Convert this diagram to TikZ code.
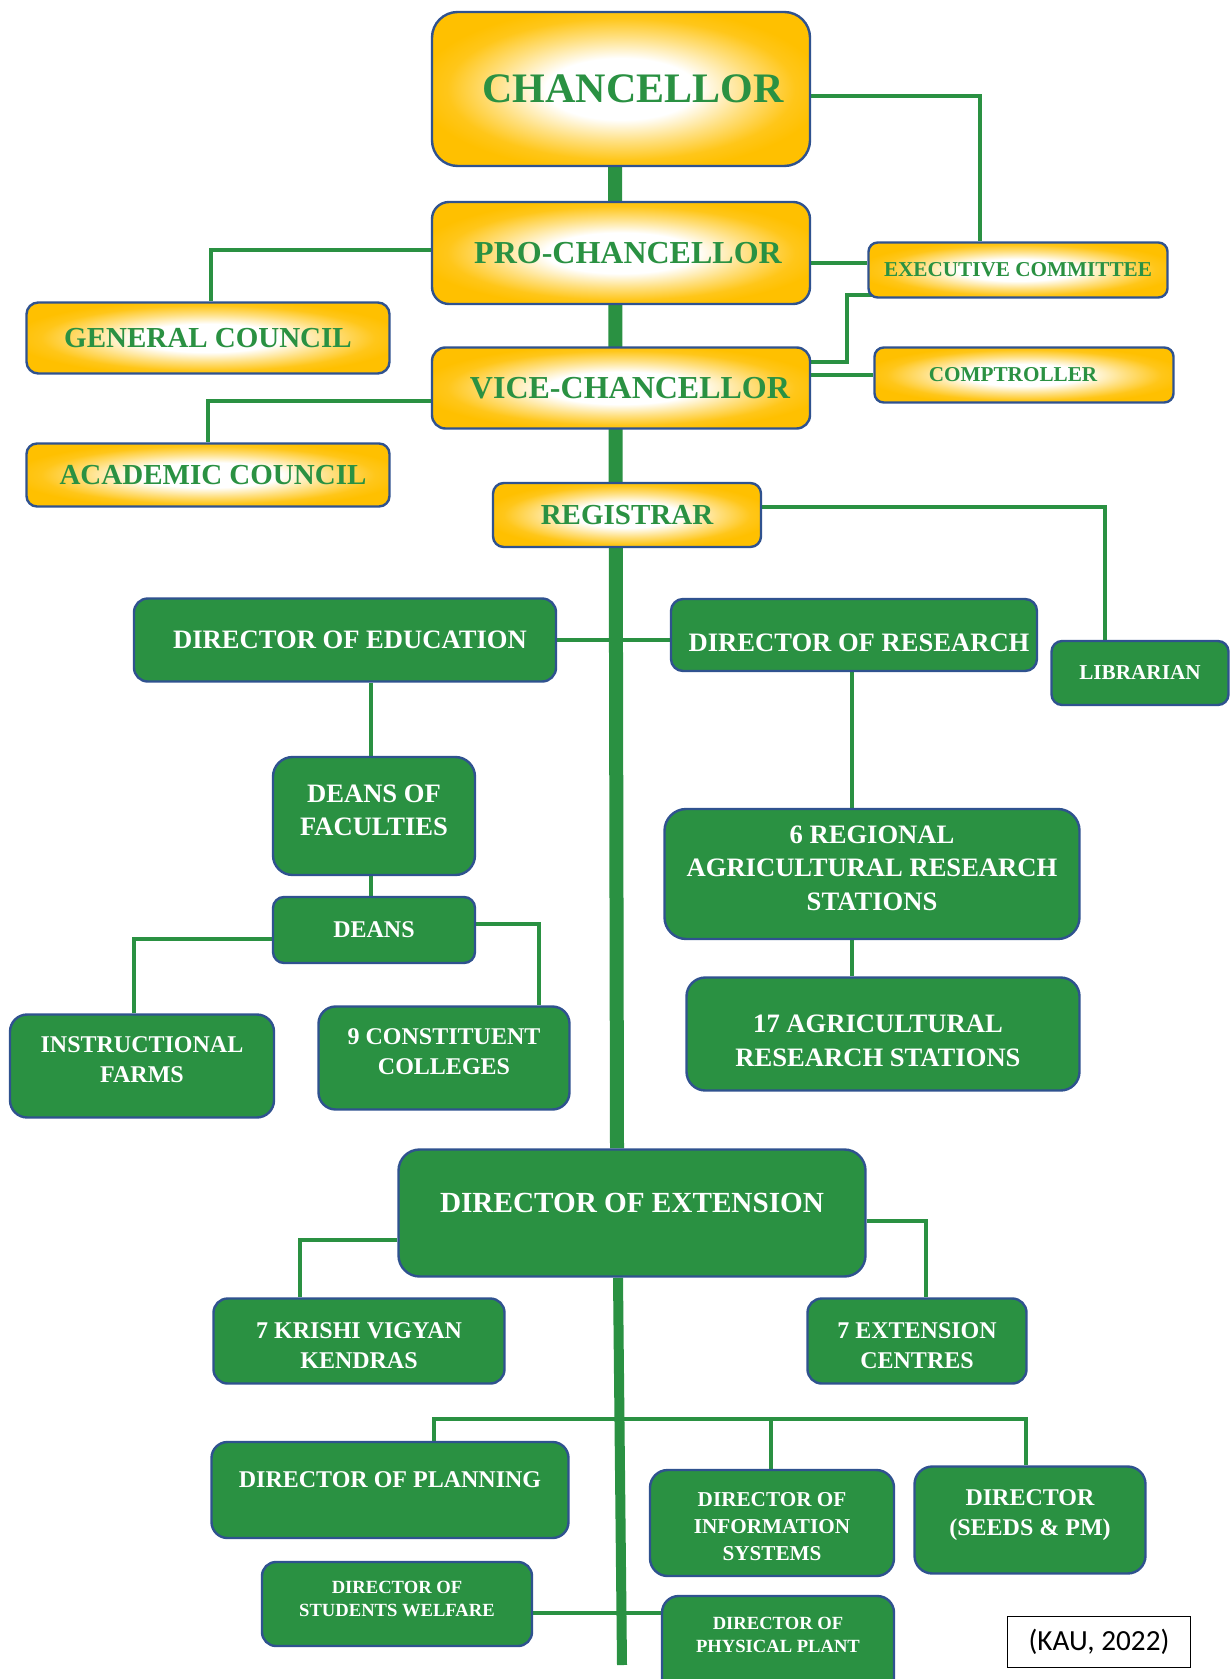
\documentclass[tikz,border=0pt]{standalone}
\usepackage{fontspec}
\setmainfont{Liberation Serif}
\newfontfamily\calibrifont{Carlito}
\usetikzlibrary{backgrounds}

\definecolor{kaugreen}{HTML}{2A9142}
\definecolor{kaublue}{HTML}{2F528F}
\definecolor{kaugold}{HTML}{FFC000}

% white centre, gold rim for the top offices
\pgfdeclareradialshading{kaurad}{\pgfpoint{0bp}{0bp}}{color(0bp)=(white); color(10bp)=(white); color(17bp)=(kaugold!50!white); color(23bp)=(kaugold!90!white); color(27bp)=(kaugold); color(50bp)=(kaugold)}

\tikzset{
  ybox/.style={shade, shading=kaurad, draw=kaublue, line width=1.2pt, text=kaugreen, align=center, inner sep=0pt},
  gbox/.style={fill=kaugreen, draw=kaublue, line width=1.2pt, text=white, align=center, inner sep=0pt},
  sz/.style 2 args={minimum width=#1*0.5pt, minimum height=#2*0.5pt, rounded corners={0.0833*min(#1,#2)*1pt}},
  fs/.style 2 args={font=\bfseries\fontsize{#1}{#2}\selectfont},
  textup/.style={text depth=#1},
  textdown/.style={text height=#1},
  link/.style={kaugreen, line width=2.3pt},
  trunk/.style={kaugreen, line width=7pt},
}

\begin{document}
\begin{tikzpicture}[x=0.5pt, y=-0.5pt]

\useasboundingbox (0,0) rectangle (1230,1679);

% Top offices (yellow boxes)
\node[ybox, sz={378}{154}, fs={21}{26}] (chan) at (621,89) {\hspace*{12pt}CHANCELLOR};
\node[ybox, sz={378}{102}, fs={16}{20}] (pro) at (621,253) {\hspace*{7pt}PRO-CHANCELLOR};
\node[ybox, sz={378}{81}, fs={16}{20}] (vice) at (621,388) {\hspace*{9pt}VICE-CHANCELLOR};
\node[ybox, sz={363}{71}, fs={14.5}{18}] (gen) at (208,338) {GENERAL COUNCIL};
\node[ybox, sz={363}{63}, fs={14.5}{18}] (acad) at (208,475) {\hspace*{5pt}ACADEMIC COUNCIL};
\node[ybox, sz={299}{55}, fs={10.6}{13}] (exec) at (1018,270) {EXECUTIVE COMMITTEE};
\node[ybox, sz={299}{55}, fs={10.6}{13}] (comp) at (1024,375) {COMPTROLLER\hspace*{11pt}};
\node[ybox, sz={268}{64}, fs={14.5}{18}] (reg) at (627,515) {REGISTRAR};

% Directorates (green boxes)
\node[gbox, sz={422}{83}, fs={13.3}{16.6}] (edu) at (345,640) {\hspace*{5pt}DIRECTOR OF EDUCATION};
\node[gbox, sz={366}{72}, fs={13.3}{16.6}, textdown=16.3pt] (res) at (854,635) {\hspace*{5pt}DIRECTOR OF RESEARCH};
\node[gbox, sz={177}{64}, fs={10.6}{13}] (lib) at (1140,673) {LIBRARIAN};
\node[gbox, sz={202}{118}, fs={13.3}{16.3}, textup=6pt] (dof) at (374,816) {DEANS OF\\FACULTIES};
\node[gbox, sz={202}{66}, fs={12}{15}] (deans) at (374,930) {DEANS};
\node[gbox, sz={264}{103}, fs={12}{15}, textup=6pt] (farms) at (142,1066) {INSTRUCTIONAL\\FARMS};
\node[gbox, sz={251}{103}, fs={12}{15}, textup=6pt] (coll) at (444,1058) {9 CONSTITUENT\\COLLEGES};
\node[gbox, sz={415}{130}, fs={13.3}{16.6}, textup=6pt] (rars) at (872,874) {6 REGIONAL\\AGRICULTURAL RESEARCH\\STATIONS};
\node[gbox, sz={393}{113}, fs={13.3}{17}, textdown=32.4pt] (ars) at (883,1034) {17 AGRICULTURAL\hspace*{5pt}\\RESEARCH STATIONS\hspace*{5pt}};
\node[gbox, sz={467}{127}, fs={14.6}{18}, textup=10pt] (ext) at (632,1213) {DIRECTOR OF EXTENSION};
\node[gbox, sz={291}{85}, fs={12}{15}, textdown=27.4pt] (kvk) at (359,1341) {7 KRISHI VIGYAN\\KENDRAS};
\node[gbox, sz={219}{85}, fs={12}{15}, textdown=27.4pt] (ecen) at (917,1341) {7 EXTENSION\\CENTRES};
\node[gbox, sz={357}{96}, fs={12}{15}, textup=10pt] (plan) at (390,1490) {DIRECTOR OF PLANNING};
\node[gbox, sz={244}{106}, fs={10.6}{13.4}, textdown=37.3pt] (info) at (772,1523) {DIRECTOR OF\\INFORMATION\\SYSTEMS};
\node[gbox, sz={231}{107}, fs={12}{15}, textup=7pt] (seeds) at (1030,1520) {DIRECTOR\\(SEEDS \& PM)};
\node[gbox, sz={270}{84}, fs={9.3}{11.7}, textup=5pt] (sw) at (397,1604) {DIRECTOR OF\\STUDENTS WELFARE};
\node[gbox, sz={232}{100}, fs={9.3}{11.7}, textup=11pt] (pp) at (778,1646) {DIRECTOR OF\\PHYSICAL PLANT};

% Source note
\node[draw=black, line width=0.7pt, minimum width=91.5pt, minimum height=25.5pt, inner sep=0pt, font=\calibrifont\fontsize{14.6}{17.5}\selectfont] (kau) at (1099,1642) {(KAU, 2022)};

% Connectors go behind the boxes
\begin{scope}[on background layer]
\draw[link] (chan.east |- 0,96) -| (980,0 |- exec.north);
\draw[link] (pro.east |- 0,263) -- (exec.west |- 0,263);
\draw[link] (vice.east |- 0,362) -| (847,295) -- ([xshift=3pt]exec.west |- 0,295);
\draw[link] (vice.east |- comp.west) -- (comp.west);
\draw[link] (pro.west |- 0,250) -| (211,0 |- gen.north);
\draw[link] (vice.west |- 0,401) -| (208,0 |- acad.north);
\draw[link] (reg.east |- 0,507) -| (1105,0 |- lib.north);

\draw[link] (edu.east) -- (res.west |- edu.east);
\draw[link] (371,0 |- edu.south) -- (371,0 |- dof.north);
\draw[link] (371,0 |- dof.south) -- (371,0 |- deans.north);
\draw[link] (deans.west |- 0,939) -| (134,0 |- farms.north);
\draw[link] (deans.east |- 0,924) -| (539,0 |- coll.north);
\draw[link] (852,0 |- res.south) -- (852,0 |- rars.north);
\draw[link] (852,0 |- rars.south) -- (852,0 |- ars.north);

\draw[link] (ext.west |- 0,1240) -| (300,0 |- kvk.north);
\draw[link] (ext.east |- 0,1221) -| (926,0 |- ecen.north);
\draw[link] (434,0 |- plan.north) |- (1026,1419) -- (1026,0 |- seeds.north);
\draw[link] (771,1419) -- (771,0 |- info.north);
\draw[link] (sw.east |- 0,1613) -- (pp.west |- 0,1613);

% Main line of authority
\draw[trunk] (615,0 |- chan.south) -- (617,0 |- ext.north);
\draw[trunk, line width=5pt] (618,0 |- ext.south) -- (622,1665);
\end{scope}

\end{tikzpicture}
\end{document}
